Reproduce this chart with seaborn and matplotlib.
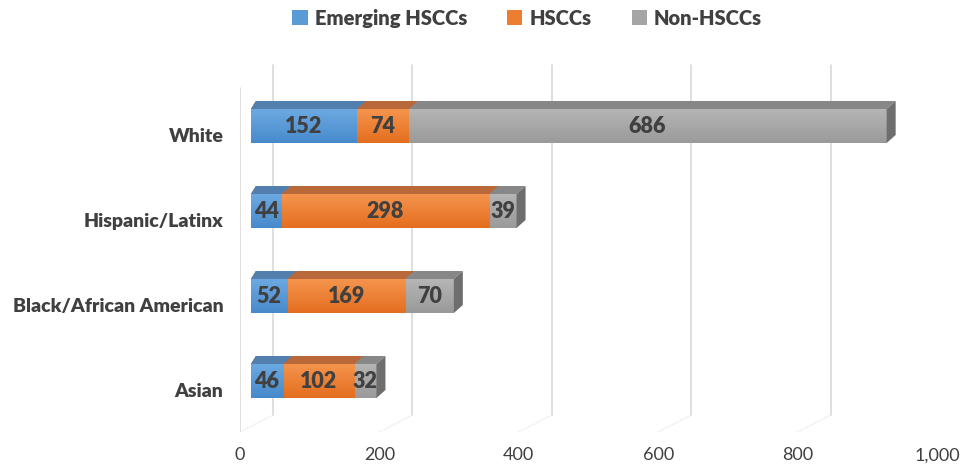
import matplotlib
matplotlib.use("Agg")
import matplotlib.pyplot as plt
import seaborn as sns
import numpy as np
from matplotlib.transforms import ScaledTranslation
from matplotlib.patches import Polygon, Patch
from matplotlib.colors import to_rgb

# ---- data ----
categories = ["White", "Hispanic/Latinx", "Black/African American", "Asian"]
emerging = [152, 44, 52, 46]
hsccs = [74, 298, 169, 102]
non_hsccs = [686, 39, 70, 32]
series_names = ["Emerging HSCCs", "HSCCs", "Non-HSCCs"]
x_ticks = [0, 200, 400, 600, 800, 1000]
x_tick_labels = ["0", "200", "400", "600", "800", "1,000"]

# ---- style ----
sns.set_theme(style="white")
plt.rcParams["font.family"] = ["Lato", "DejaVu Sans"]
TXT = "#404040"
front_cols = {"Emerging HSCCs": "#5B9BD5", "HSCCs": "#ED7D31", "Non-HSCCs": "#A5A5A5"}
grad_cols = {"Emerging HSCCs": ("#6CA9E2", "#478ACB"),
             "HSCCs": ("#F5944E", "#E46E1E"),
             "Non-HSCCs": ("#B5B5B5", "#9A9A9A")}
top_cols = {"Emerging HSCCs": "#527FAE", "HSCCs": "#B9683A", "Non-HSCCs": "#878787"}
side_col = "#6E6E6E"
grid_col = "#D9D9D9"

W, H, DPI = 964, 465, 100
fig = plt.figure(figsize=(W / DPI, H / DPI), dpi=DPI)
ax_l, ax_r, ax_t, ax_b = 240, 937, 60, 432
ax = fig.add_axes([ax_l / W, 1 - ax_b / H, (ax_r - ax_l) / W, (ax_b - ax_t) / H])

e = np.array(emerging)
h = np.array(hsccs)
n = np.array(non_hsccs)
cum1 = e
cum2 = e + h
cum3 = e + h + n

layers = [(cum3, "Non-HSCCs"), (cum2, "HSCCs"), (cum1, "Emerging HSCCs")]
groups = []
for vals, name in layers:
    n0 = len(ax.patches)
    sns.barplot(x=vals, y=categories, orient="h", color=front_cols[name],
                saturation=1, width=0.4, linewidth=0, errorbar=None, ax=ax)
    groups.append((name, list(ax.patches[n0:])))

# axis limits: category centers at 135 + 85*i px
ax.set_xlim(0, 1000)
y_top = -(135 - ax_t) / 85.0
y_bot = (ax_b - 135) / 85.0
ax.set_ylim(y_bot, y_top)

front = ax.transData + ScaledTranslation(11 / DPI, 9 / DPI, fig.dpi_scale_trans)
for name, patches in groups:
    for p in patches:
        p.set_transform(front)

px_per_x = (ax_r - ax_l) / 1000.0
px_per_y = 85.0
ddx = 9 / px_per_x
ddy = 8 / px_per_y

# gradient shading on front faces, 3D top faces and side face
zc = 1.0
for name, patches in groups:
    c0 = np.array(to_rgb(grad_cols[name][0]))
    c1 = np.array(to_rgb(grad_cols[name][1]))
    tt = np.linspace(0, 1, 64)[:, None]
    grad = (c0 * (1 - tt) + c1 * tt)[:, None, :]
    for p in patches:
        x, yt, w, hh = p.get_x(), p.get_y(), p.get_width(), p.get_height()
        p.set_zorder(zc)
        im = ax.imshow(grad, extent=[x, x + w, yt + hh, yt], aspect="auto",
                       interpolation="bilinear", zorder=zc + 0.1)
        im.set_transform(front)
        im.set_clip_path(p)
        top = Polygon([(x, yt), (x + w, yt), (x + w + ddx, yt - ddy), (x + ddx * 0.55, yt - ddy)],
                      closed=True, facecolor=top_cols[name], edgecolor="none",
                      transform=front, zorder=zc + 0.2)
        ax.add_patch(top)
        if name == "Non-HSCCs":
            yb = yt + hh
            side = Polygon([(x + w, yt), (x + w + ddx, yt - ddy), (x + w + ddx, yb - ddy), (x + w, yb)],
                           closed=True, facecolor=side_col, edgecolor="none",
                           transform=front, zorder=zc + 0.2)
            ax.add_patch(side)
    zc += 0.5

# value labels
for i in range(len(categories)):
    starts = [0, cum1[i], cum2[i]]
    vals = [e[i], h[i], n[i]]
    for s, v in zip(starts, vals):
        ax.text(s + v / 2, i, f"{v}", transform=front, ha="center", va="center",
                fontsize=15.5, fontweight="heavy", color=TXT, zorder=5)

# back-wall gridlines (offset), floor marks, left wall
xtr = ax.get_xaxis_transform()
back = xtr + ScaledTranslation(33 / DPI, 0, fig.dpi_scale_trans)
g_top = (ax_b - 65) / (ax_b - ax_t)
g_bot = (ax_b - 415) / (ax_b - ax_t)
for t in x_ticks:
    ax.plot([t, t], [g_bot, g_top], transform=back, color=grid_col, lw=1.2, zorder=0)
    ax.plot([t, t - 33 / px_per_x], [g_bot, 0.0], transform=back, color="#E6E6E6",
            lw=1.0, ls=(0, (1, 1)), zorder=0)
ax.plot([0, 0], [0.0, (ax_b - 88) / (ax_b - ax_t)], transform=xtr, color=grid_col, lw=1.2, zorder=0)

for s in ax.spines.values():
    s.set_visible(False)
ax.set_xticks(x_ticks)
ax.set_xticklabels(x_tick_labels, fontsize=13, color=TXT)
ax.set_yticks(range(len(categories)))
ax.set_yticklabels(categories, fontsize=14, fontweight="heavy", color=TXT)
ax.tick_params(axis="x", length=0, pad=11)
ax.tick_params(axis="y", length=0, pad=12)
ax.set_xlabel("")
ax.set_ylabel("")
ax.grid(False)
ax.set_xlim(0, 1000)
ax.set_ylim(y_bot, y_top)

handles = [Patch(facecolor=front_cols[s], edgecolor="none") for s in series_names]
fig.legend(handles, series_names, loc="center", bbox_to_anchor=(0.547, 0.961), ncol=3,
           frameon=False, prop=dict(weight="heavy", size=14.5), labelcolor=TXT,
           handlelength=0.75, handleheight=0.75, handletextpad=0.35, columnspacing=2.0)

fig.savefig("out.png", dpi=DPI)
